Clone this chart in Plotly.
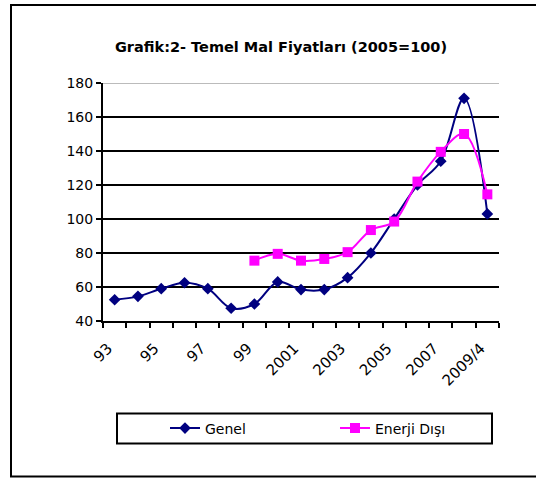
import plotly.graph_objects as go

categories = ["93", "94", "95", "96", "97", "98", "99", "2000", "2001", "2002",
              "2003", "2004", "2005", "2006", "2007", "2008", "2009/4"]
genel = [52.5, 54.5, 59, 62.5, 59, 47.5, 50, 63, 58.5, 58.5,
         65.5, 80, 100, 120, 134, 171, 103]
enerji_disi = [None, None, None, None, None, None, 75.5, 79.5, 75.5, 76.5,
               80.5, 93.5, 98.5, 122, 139.5, 150, 114.5]
tick_labels = ["93", "", "95", "", "97", "", "99", "", "2001", "", "2003", "",
               "2005", "", "2007", "", "2009/4"]
y_ticks = [40, 60, 80, 100, 120, 140, 160, 180]

W, H = 536, 479
L, R, T, B = 103, 37, 83, 158
pw, ph = W - L - R, H - T - B

def px_x(x):
    return (x - L) / pw

def px_y(y):
    return (H - B - y) / ph

fig = go.Figure()
fig.add_trace(go.Scatter(
    x=categories, y=genel, name="Genel", mode="lines+markers",
    line=dict(color="#000080", width=2, shape="spline", smoothing=1),
    marker=dict(symbol="diamond", size=9, color="#000080"),
))
fig.add_trace(go.Scatter(
    x=categories, y=enerji_disi, name="Enerji Dışı", mode="lines+markers",
    line=dict(color="#FF00FF", width=2, shape="spline", smoothing=1),
    marker=dict(symbol="square", size=10, color="#FF00FF"),
))

font_fam = "DejaVu Sans"
fig.update_layout(
    width=W, height=H,
    margin=dict(l=L, r=R, t=T, b=B),
    paper_bgcolor="white", plot_bgcolor="white",
    title=dict(text="<b>Grafik:2- Temel Mal Fiyatları (2005=100)</b>",
               x=px_x(281), xref="paper", xanchor="center",
               y=1 - 47 / H, yanchor="middle",
               font=dict(family=font_fam, size=14.5, color="black")),
    showlegend=True,
    legend=dict(orientation="h", x=px_x(165), xanchor="left",
                y=px_y(428.5), yanchor="middle",
                bgcolor="rgba(0,0,0,0)", borderwidth=0,
                entrywidth=125, entrywidthmode="pixels",
                font=dict(family=font_fam, size=14, color="black")),
    xaxis=dict(
        type="category", tickmode="array", tickvals=categories,
        ticktext=[t + "\u00a0\u00a0" if t else t for t in tick_labels],
        tickangle=-45, tickson="boundaries", ticks="outside", ticklen=5,
        tickwidth=2, tickcolor="black", showline=True, linecolor="black",
        linewidth=2, showgrid=False, zeroline=False, ticklabelstandoff=4,
        range=[-0.5, len(categories) - 0.5],
        tickfont=dict(family=font_fam, size=15, color="black"),
    ),
    yaxis=dict(
        range=[40, 180], tickvals=y_ticks, ticks="outside", ticklen=5,
        tickwidth=2, tickcolor="black", showline=True, linecolor="black",
        linewidth=2, showgrid=True, gridcolor="black", gridwidth=2,
        zeroline=False,
        tickfont=dict(family=font_fam, size=14, color="black"),
    ),
    shapes=[
        dict(type="line", xref="paper", yref="y", x0=0, x1=1, y0=180, y1=180,
             line=dict(color="#BBBBBB", width=2), layer="above"),
        dict(type="rect", xref="paper", yref="paper",
             x0=px_x(117), x1=px_x(492), y0=px_y(443.5), y1=px_y(413.5),
             line=dict(color="black", width=2), fillcolor="rgba(0,0,0,0)"),
        dict(type="rect", xref="paper", yref="paper",
             x0=px_x(11), x1=px_x(545), y0=px_y(476.5), y1=px_y(5),
             line=dict(color="black", width=2), fillcolor="rgba(0,0,0,0)"),
    ],
)

fig.write_html("out.html", config={"displayModeBar": False},
               post_script="document.body.style.margin='0';document.body.style.overflow='hidden';")
